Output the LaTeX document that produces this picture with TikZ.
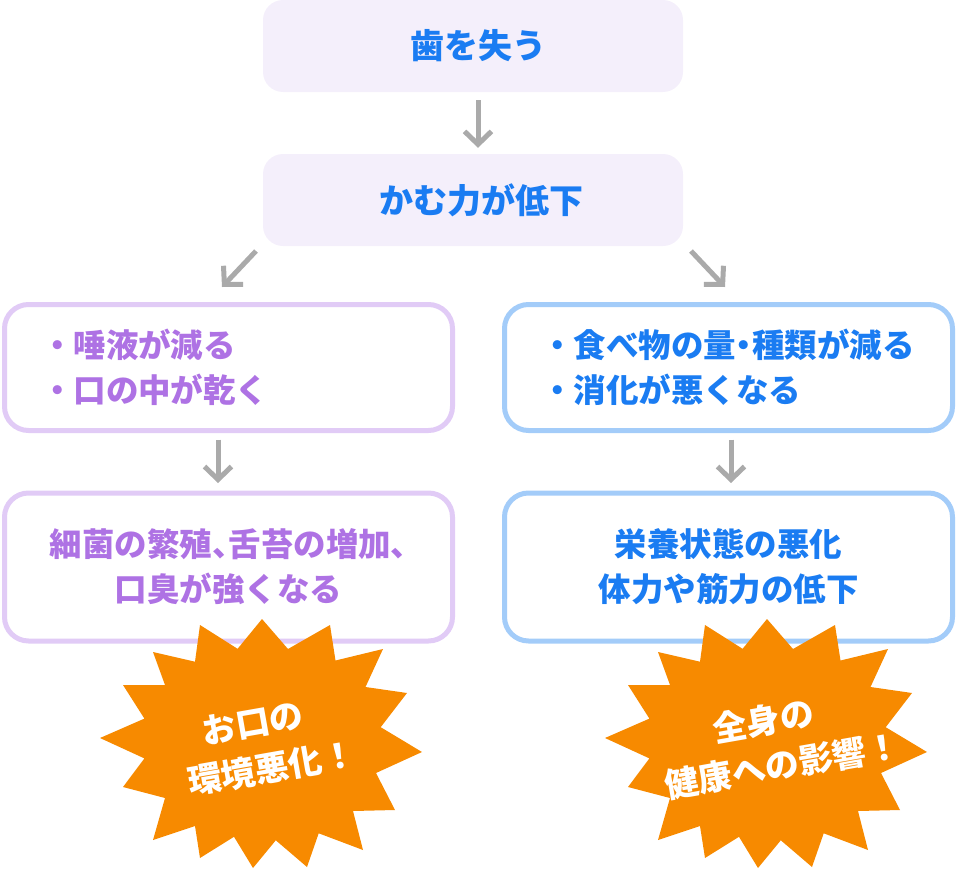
\documentclass[tikz,border=0pt]{standalone}
\usepackage{fontspec}
\setmainfont{Noto Sans CJK JP}
\usetikzlibrary{arrows.meta}
\definecolor{tblue}{HTML}{1A7CF2}
\definecolor{tpurp}{HTML}{AE72E4}
\definecolor{lborder}{HTML}{E1CBF6}
\definecolor{rborder}{HTML}{A3CCF9}
\definecolor{topfill}{HTML}{F4EFFB}
\definecolor{arrgray}{HTML}{AAAAAA}
\definecolor{burstcol}{HTML}{F78A00}
\newcommand\pdot[1]{{\addfontfeature{RawFeature=+palt}#1}}
\begin{document}
\begin{tikzpicture}[x=1pt,y=-1pt,
  topbox/.style={fill=topfill, rounded corners=20, minimum width=420, minimum height=92, inner sep=0, text=tblue, font=\bfseries\fontsize{34}{40}\selectfont},
  framebox/.style={line width=5, fill=white, rounded corners=24, minimum width=448, inner sep=0, font=\bfseries\fontsize{32.5}{45}\selectfont},
  lbox/.style={framebox, draw=lborder, text=tpurp},
  rbox/.style={framebox, draw=rborder, text=tblue},
  bullets/.style={align=left, text width=375, minimum height=126},
  centred/.style={align=center, minimum height=148},
  arr/.style={draw=arrgray, line width=5, -{Straight Barb[length=13pt,width=27pt]}},
  bursttext/.style={text=white, rotate=10, align=center, inner sep=0, font=\bfseries\fontsize{34}{47}\selectfont},
  burstshape/.pic={
    \fill[burstcol] (262,619) -- (288,649) -- (330,625) -- (335.5,660.5) -- (383,649) -- (365.5,687) -- (407,693) -- (380.7,727.2) -- (422,752) -- (376,773) -- (395,810) -- (353,811) -- (363,850) -- (318.7,833.3) -- (307,867) -- (275.8,840.3) -- (253,868) -- (234,836.8) -- (200,858) -- (195,826) -- (153,840) -- (165,798) -- (123,787) -- (144.4,758.4) -- (100,738) -- (144.4,718.6) -- (123,685) -- (165,685) -- (153,652) -- (195,661.7) -- (200,625) -- (237.6,648.8) -- cycle;
  }
]
\useasboundingbox (0,0) rectangle (956,870);

% top boxes
\node[topbox] (b1) at (473,46) {\hspace*{10pt}歯を失う};
\node[topbox] (b2) at (473,200) {\hspace*{16pt}かむ力が低下};

% left column
\node[lbox, bullets] (b3) at (228.5,367.5) {・唾液が減る\\・口の中が乾く};
\node[lbox, centred] (b4) at (228.5,567) {細菌の繁殖\pdot{、}舌苔の増加\pdot{、}\\口臭が強くなる};

% right column
\node[rbox, bullets] (b5) at (728.5,367.5) {・食べ物の量\pdot{・}種類が減る\\・消化が悪くなる};
\node[rbox, centred] (b6) at (728.5,567) {栄養状態の悪化\\体力や筋力の低下};

% arrows
\draw[arr, shorten <=8, shorten >=6] ([xshift=5]b1.south) -- ([xshift=5]b2.north);
\coordinate (l1) at (256,251);
\coordinate (l2) at (222,287);
\coordinate (r1) at (691,251);
\coordinate (r2) at (725,287);
\draw[arr] (l1) -- (l2);
\draw[arr] (r1) -- (r2);
\draw[arr, shorten <=6.5, shorten >=7.5] ([xshift=-10.5]b3.south) -- ([xshift=-10.5]b4.north);
\draw[arr, shorten <=6.5, shorten >=7.5] ([xshift=2.5]b5.south) -- ([xshift=2.5]b6.north);

% bursts
\pic at (0,0) {burstshape};
\pic at (505,0) {burstshape};
\node[bursttext] (s1) at (268,745) {お口の\hspace*{22pt}\\環境悪化！};
\node[bursttext] (s2) at (778,742) {全身の\hspace*{22pt}\\健康への影響！};
\end{tikzpicture}
\end{document}
